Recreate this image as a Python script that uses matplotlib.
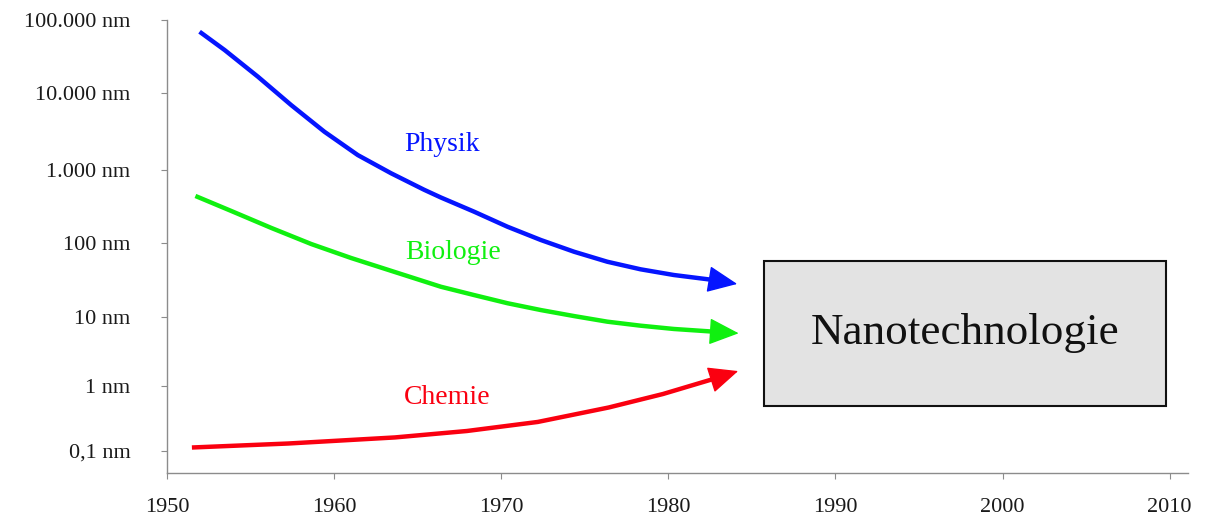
import numpy as np
import matplotlib
matplotlib.use("Agg")
import matplotlib.pyplot as plt
from matplotlib.patches import Rectangle

# ---------------- data ----------------
physik_years = [1951.95, 1953.45, 1955.44, 1957.43, 1959.42, 1961.42, 1963.41, 1965.39,
                1966.39, 1968.38, 1970.38, 1972.37, 1974.36, 1976.35, 1978.34, 1980.33,
                1982.72, 1984.12]
physik_nm = [69000, 38600, 16600, 6930, 3140, 1570, 910, 538,
             421, 268, 166, 109, 75.5, 55.3, 43.7, 36.6,
             31.3, 27.7]

biologie_years = [1951.70, 1953.85, 1956.24, 1958.63, 1961.02, 1964.0, 1966.39, 1968.38,
                  1970.38, 1972.37, 1974.36, 1976.35, 1978.34, 1980.33, 1982.72, 1984.21]
biologie_nm = [442, 274, 160, 96, 62.1, 37.8, 25.4, 19.6,
               15.2, 12.3, 10.2, 8.47, 7.41, 6.64, 6.07, 5.75]

chemie_years = [1951.49, 1957.25, 1963.64, 1967.95, 1972.19, 1976.43, 1979.68, 1982.69, 1984.18]
chemie_nm = [0.112, 0.129, 0.160, 0.201, 0.277, 0.462, 0.745, 1.25, 1.63]

x_ticks = [1950, 1960, 1970, 1980, 1990, 2000, 2010]
y_tick_values = [0.1, 1, 10, 100, 1000, 10000, 100000]
y_tick_labels = ["0,1 nm", "1 nm", "10 nm", "100 nm", "1.000 nm", "10.000 nm", "100.000 nm"]

box_years = (1985.7, 2009.8)
box_nm = (0.488, 57)
box_label = "Nanotechnologie"

labels = [("Physik", 1966.45, 2180), ("Biologie", 1967.1, 72.6), ("Chemie", 1966.75, 0.647)]

# ---------------- style ----------------
BLUE = "#0515ff"
GREEN = "#10f010"
RED = "#fa0010"
SERIF = ["Liberation Serif", "DejaVu Serif"]

# piecewise log scale (schematic axis with uneven decade spacing)
_dec = np.array([-1, 0, 1, 2, 3, 4, 5], dtype=float)
_pos = np.array([22.3, 87.3, 156.3, 230.3, 302.7, 380.3, 453.0])
_L = np.concatenate([[-9.0], _dec, [13.0]])
_P = np.concatenate([[_pos[0] - 8 * 65.0], _pos, [_pos[-1] + 8 * 72.7]])


def fwd(v):
    v = np.asarray(v, dtype=float)
    l = np.log10(np.clip(v, 1e-12, None))
    return np.interp(l, _L, _P)


def inv(p):
    p = np.asarray(p, dtype=float)
    return 10 ** np.interp(p, _P, _L)


fig = plt.figure(figsize=(12.06, 5.17), dpi=100)
ax = fig.add_axes([167 / 1206, 44 / 517, (1188 - 167) / 1206, (473 - 20) / 517])
ax.set_yscale("function", functions=(fwd, inv))
ax.set_xlim(1950.08, 2011.1)
ax.set_ylim(float(inv(0.0)), float(inv(453.0)))

for s in ["top", "right"]:
    ax.spines[s].set_visible(False)
for s in ["left", "bottom"]:
    ax.spines[s].set_color("#8c8c8c")
    ax.spines[s].set_linewidth(1.0)

ax.set_xticks(x_ticks)
ax.set_xticklabels([str(t) for t in x_ticks], fontfamily=SERIF, fontsize=16, color="#1a1a1a")
ax.set_yticks(y_tick_values)
ax.set_yticklabels(y_tick_labels, fontfamily=SERIF, fontsize=16, color="#1a1a1a")
ax.yaxis.set_minor_locator(matplotlib.ticker.NullLocator())
ax.xaxis.set_minor_locator(matplotlib.ticker.NullLocator())
ax.tick_params(axis="both", direction="out", length=4.3, width=0.8, color="#8c8c8c")
ax.tick_params(axis="y", pad=22)
ax.tick_params(axis="x", pad=14)


def curve_arrow(xs, ys, color):
    ax.plot(xs[:-1], ys[:-1], color=color, lw=3.2, solid_capstyle="butt",
            solid_joinstyle="round", zorder=3)
    ax.annotate("", xy=(xs[-1], ys[-1]), xytext=(xs[-2], ys[-2]),
                arrowprops=dict(arrowstyle="-|>,head_length=1.9,head_width=0.85",
                                mutation_scale=10, color=color, lw=1.0,
                                shrinkA=0, shrinkB=0), zorder=4)


curve_arrow(physik_years, physik_nm, BLUE)
curve_arrow(biologie_years, biologie_nm, GREEN)
curve_arrow(chemie_years, chemie_nm, RED)

for (txt, x, y), c in zip(labels, [BLUE, GREEN, RED]):
    ax.text(x, y, txt, color=c, fontsize=20, fontfamily=SERIF, ha="center", va="center")

rect = Rectangle((box_years[0], box_nm[0]), box_years[1] - box_years[0], box_nm[1] - box_nm[0],
                 facecolor="#e3e3e3", edgecolor="#111111", lw=1.5, zorder=2)
ax.add_patch(rect)
ax.text((box_years[0] + box_years[1]) / 2, float(inv((fwd(box_nm[0]) + fwd(box_nm[1])) / 2)),
        box_label, fontsize=32.5, fontfamily=SERIF, ha="center", va="center", color="#111111", zorder=3)

fig.savefig("out.png", dpi=100)
